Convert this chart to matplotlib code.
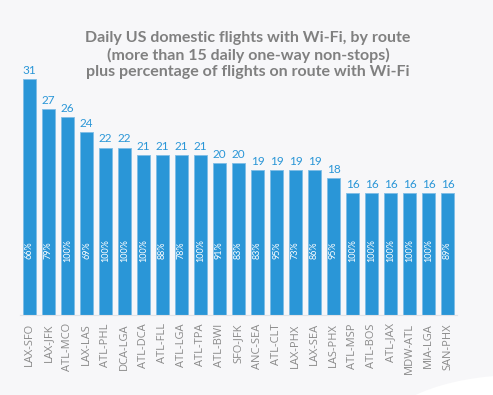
import matplotlib.pyplot as plt
from matplotlib.patches import Ellipse

routes = ['LAX-SFO', 'LAX-JFK', 'ATL-MCO', 'LAX-LAS', 'ATL-PHL', 'DCA-LGA', 'ATL-DCA',
          'ATL-FLL', 'ATL-LGA', 'ATL-TPA', 'ATL-BWI', 'SFO-JFK', 'ANC-SEA', 'ATL-CLT',
          'LAX-PHX', 'LAX-SEA', 'LAS-PHX', 'ATL-MSP', 'ATL-BOS', 'ATL-JAX', 'MDW-ATL',
          'MIA-LGA', 'SAN-PHX']
flights = [31, 27, 26, 24, 22, 22, 21, 21, 21, 21, 20, 20, 19, 19, 19, 19, 18,
           16, 16, 16, 16, 16, 16]
pct_wifi = [66, 79, 100, 69, 100, 100, 100, 88, 78, 100, 91, 83, 83, 95, 73, 86, 95,
            100, 100, 100, 100, 100, 89]

bg = '#f7f7f9'
blue = '#2a96d7'

fig = plt.figure(figsize=(4.93, 3.95), dpi=100)
fig.patch.set_facecolor(bg)

# white swoosh bottom right
fig.add_artist(Ellipse((520, -40), 280, 120, transform=None,
                       facecolor='white', edgecolor='none', zorder=0))

ax = fig.add_axes([20 / 493, 80 / 395, 437 / 493, 236 / 395])
ax.set_facecolor('none')

x = range(len(routes))
ax.bar(x, flights, width=0.68, color=blue, edgecolor='#7fbde6', linewidth=0.6)

for i in x:
    ax.text(i, flights[i] + 0.4, str(flights[i]), ha='center', va='bottom',
            color=blue, fontsize=8.5, family='Lato')
    ax.text(i, 8.5, str(pct_wifi[i]) + '%', ha='center', va='center', rotation=90,
            color='white', fontsize=6.5, family='Lato')

ax.set_xlim(-0.5, len(routes) - 0.5)
ax.set_ylim(0, 31)
ax.set_xticks(list(x))
ax.set_xticklabels(routes, rotation=90, fontsize=8, color='#8a8a8a', family='Open Sans')
ax.tick_params(axis='x', length=0, pad=6)
ax.set_yticks([])
for s in ['top', 'right', 'left']:
    ax.spines[s].set_visible(False)
ax.spines['bottom'].set_color('#e2e2e6')
ax.spines['bottom'].set_linewidth(0.8)

fig.text(248, 395 - 55, 'Daily US domestic flights with Wi-Fi, by route\n'
         '(more than 15 daily one-way non-stops)\n'
         'plus percentage of flights on route with Wi-Fi',
         transform=None, ha='center', va='center', fontsize=11.5, color='#808080',
         family='Lato', fontweight='bold', linespacing=1.25)

fig.savefig('out.png', dpi=100, facecolor=bg)
